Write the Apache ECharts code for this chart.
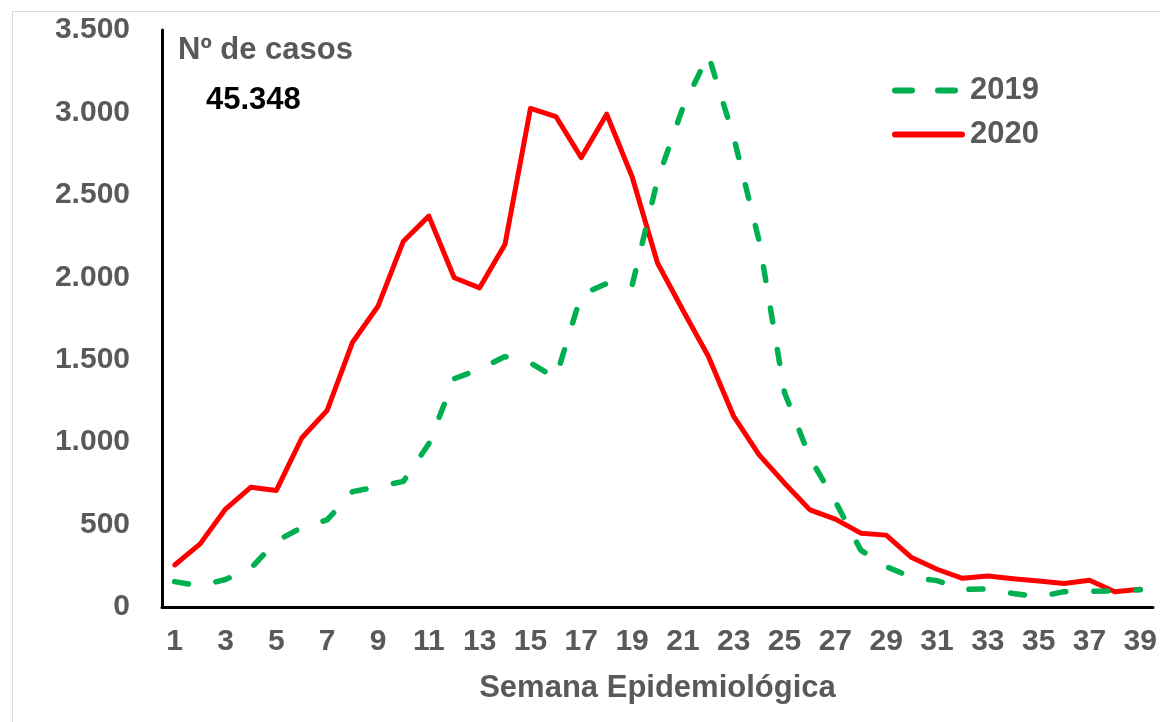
<!DOCTYPE html>
<html>
<head>
<meta charset="utf-8">
<script src="https://cdn.jsdelivr.net/npm/echarts@6/dist/echarts.min.js"></script>
<style>
html,body{margin:0;padding:0;background:#fff;}
#chart{width:1160px;height:722px;}
</style>
</head>
<body>
<div id="chart"></div>
<script>
const weeks = Array.from({length: 39}, (_, i) => String(i + 1));
const cases2019 = [154,128,167,235,400,482,528,700,729,762,990,1385,1443,1519,1480,1390,1895,1962,1950,2590,3030,3350,2850,2220,1300,905,640,345,245,180,160,106,110,82,62,93,95,98,105];
const cases2020 = [255,383,594,727,707,1025,1193,1606,1824,2219,2371,1997,1936,2200,3024,2975,2726,2989,2610,2087,1800,1521,1156,923,751,589,533,448,436,300,229,174,188,172,158,142,162,93,107];
const yTicks = [0,500,1000,1500,2000,2500,3000,3500];
const totalLabel = '45.348';
const yTitle = 'Nº de casos';
const xTitle = 'Semana Epidemiológica';

const FONT = '"Liberation Sans", Arial, sans-serif';
const GRAY = '#595959';

function fmt(v){ return String(v).replace(/\B(?=(\d{3})+(?!\d))/g, '.'); }

const dashedIcon = 'path://M3,0h17a3,3 0 0 1 0,6h-17a3,3 0 0 1 0,-6z M46,0h17a3,3 0 0 1 0,6h-17a3,3 0 0 1 0,-6z M73,0L73,6L73,6z';
const solidIcon = 'path://M3,0h67a3,3 0 0 1 0,6h-67a3,3 0 0 1 0,-6z';

const chart = echarts.init(document.getElementById('chart'), null, {renderer: 'canvas'});
chart.setOption({
  animation: false,
  backgroundColor: '#fff',
  grid: {left: 162, right: 7, top: 30, bottom: 115, containLabel: false},
  legend: {
    orient: 'vertical',
    left: 887,
    top: 70,
    itemWidth: 73,
    itemHeight: 6,
    itemGap: 13,
    selectedMode: false,
    textStyle: {fontFamily: FONT, fontWeight: 'bold', fontSize: 31, color: GRAY},
    data: [
      {name: '2019', icon: dashedIcon},
      {name: '2020', icon: solidIcon}
    ]
  },
  xAxis: {
    type: 'category',
    data: weeks,
    boundaryGap: true,
    axisLine: {show: true, lineStyle: {color: '#000', width: 3}},
    axisTick: {show: false},
    axisLabel: {interval: 1, margin: 20, fontFamily: FONT, fontWeight: 'bold', fontSize: 30, color: GRAY},
    splitLine: {show: false},
    name: xTitle,
    nameLocation: 'middle',
    nameGap: 66,
    nameTextStyle: {fontFamily: FONT, fontWeight: 'bold', fontSize: 31, color: GRAY}
  },
  yAxis: {
    type: 'value',
    min: yTicks[0],
    max: yTicks[yTicks.length - 1],
    interval: 500,
    axisLine: {show: true, lineStyle: {color: '#000', width: 3}},
    axisTick: {show: false},
    splitLine: {show: false},
    axisLabel: {margin: 32, fontFamily: FONT, fontWeight: 'bold', fontSize: 30, color: GRAY, formatter: fmt}
  },
  series: [
    {
      name: '2020', type: 'line', data: cases2020, symbol: 'none',
      lineStyle: {color: '#FF0000', width: 5, cap: 'round', join: 'round'},
      itemStyle: {color: '#FF0000'}, z: 2
    },
    {
      name: '2019', type: 'line', data: cases2019, symbol: 'none',
      lineStyle: {color: '#00B050', width: 5.5, type: [14, 28], cap: 'round', join: 'round'},
      itemStyle: {color: '#00B050'}, z: 3
    }
  ],
  graphic: [
    {type: 'rect', left: 10, top: 9, shape: {width: 1300, height: 900}, style: {fill: 'none', stroke: '#d9d9d9', lineWidth: 1}, silent: true, z: -10},
    {type: 'text', left: 178, top: 35, style: {text: yTitle, font: 'bold 31px ' + FONT, fill: GRAY}},
    {type: 'text', left: 206, top: 85, style: {text: totalLabel, font: 'bold 31px ' + FONT, fill: '#000'}}
  ]
});
</script>
</body>
</html>
